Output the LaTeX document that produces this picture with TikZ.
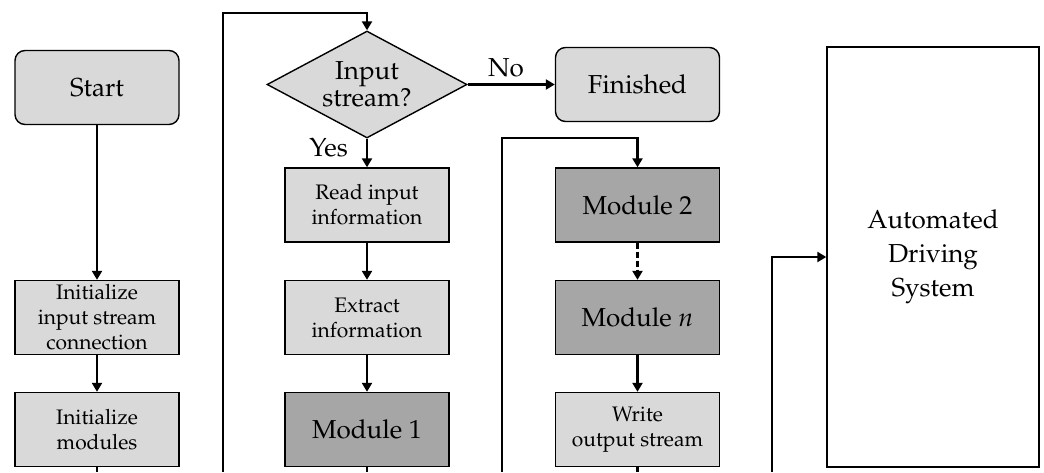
\documentclass[tikz,border=0pt]{standalone}
\usepackage[T1]{fontenc}
\usepackage{mathpazo}
\usetikzlibrary{shapes.geometric,arrows.meta}
\definecolor{boxlight}{RGB}{217,217,217}
\definecolor{boxdark}{RGB}{166,166,166}
\newcommand{\bigtxt}{\fontsize{13}{12.5}\selectfont}
\newcommand{\smalltxt}{\fontsize{10.5}{12.5}\selectfont}

\begin{document}
\begin{tikzpicture}[x=0.5pt, y=-0.5pt,
	flow/.style={line width=1.2pt, -{Triangle[length=4.5pt,width=5pt]}},
	wire/.style={line width=1.2pt},
	boxbase/.style={draw, line width=0.7pt, align=center, inner sep=0pt, minimum width=82pt, minimum height=37pt},
	termbox/.style={boxbase, rounded corners=5pt, fill=boxlight, font=\bigtxt},
	procbox/.style={boxbase, fill=boxlight, font=\smalltxt},
	modbox/.style={boxbase, fill=boxdark, font=\bigtxt},
	decbox/.style={diamond, draw, line width=0.7pt, fill=boxlight, align=center, inner sep=0pt, aspect=1.87, minimum width=100pt, minimum height=53.5pt, font=\fontsize{13}{12}\selectfont},
	lab/.style={font=\bigtxt, inner sep=2pt}]
			%%%%% START %%%%%
			\useasboundingbox (0,0) rectangle (1044,472);
			\coordinate (floor) at (0,472);
			
			\node[termbox] (start) at (97,87.5) {Start};
			\node[decbox] (dec) at (367,84.5) {Input\\stream?};
			\node[termbox] (fin) at (637.5,84.5) {Finished};
			\node[draw, line width=0.7pt, fill=white, minimum width=106pt, minimum height=210pt, align=center, font=\fontsize{13}{17}\selectfont] (ads) at (933,257) {Automated\\Driving\\System};
			
			\node[procbox] (init) at (97,317.5) {Initialize\\input stream\\connection};
			\node[procbox] (initmod) at (97,429.5) {Initialize\\modules};
			
			\node[procbox] (read) at (367,205) {Read input\\information};
			\node[procbox] (extr) at (367,317.5) {Extract\\information};
			\node[modbox] (mod1) at (367,429.5) {Module 1};
			
			\node[modbox] (mod2) at (637.5,205) {Module 2};
			\node[modbox] (modn) at (637.5,317.5) {Module $n$};
			\node[procbox] (write) at (637.5,429.5) {Write\\output stream};
			
			\draw[flow] (start) -- (init);
			\draw[flow] (init) -- (initmod);
			\draw[wire] (initmod.south) -- (initmod.south |- floor);
			
			\coordinate (loopA) at (223,13);
			\draw[flow] (loopA |- floor) -- (loopA) -| (dec.north);
			\draw[flow] (dec.east) -- node[lab, above=1pt, pos=0.44] (nolab) {No} (fin.west);
			\draw[flow] (dec.south) -- node[lab, left=7pt, pos=0.33] (yeslab) {Yes} (read.north);
			\draw[flow] (read) -- (extr);
			\draw[flow] (extr) -- (mod1);
			\draw[wire] (mod1.south) -- (mod1.south |- floor);
			
			\coordinate (loopB) at (502,138);
			\draw[flow] (loopB |- floor) -- (loopB) -| (mod2.north);
			\draw[flow, dash pattern=on 3pt off 1.5pt] (mod2) -- (modn);
			\draw[flow] (modn) -- (write);
			\draw[wire] (write.south) -- (write.south |- floor);
			
			\coordinate (loopC) at (772,472);
			\draw[flow] (loopC) |- (ads.west);
			%%%%% END %%%%%
\end{tikzpicture}
\end{document}
